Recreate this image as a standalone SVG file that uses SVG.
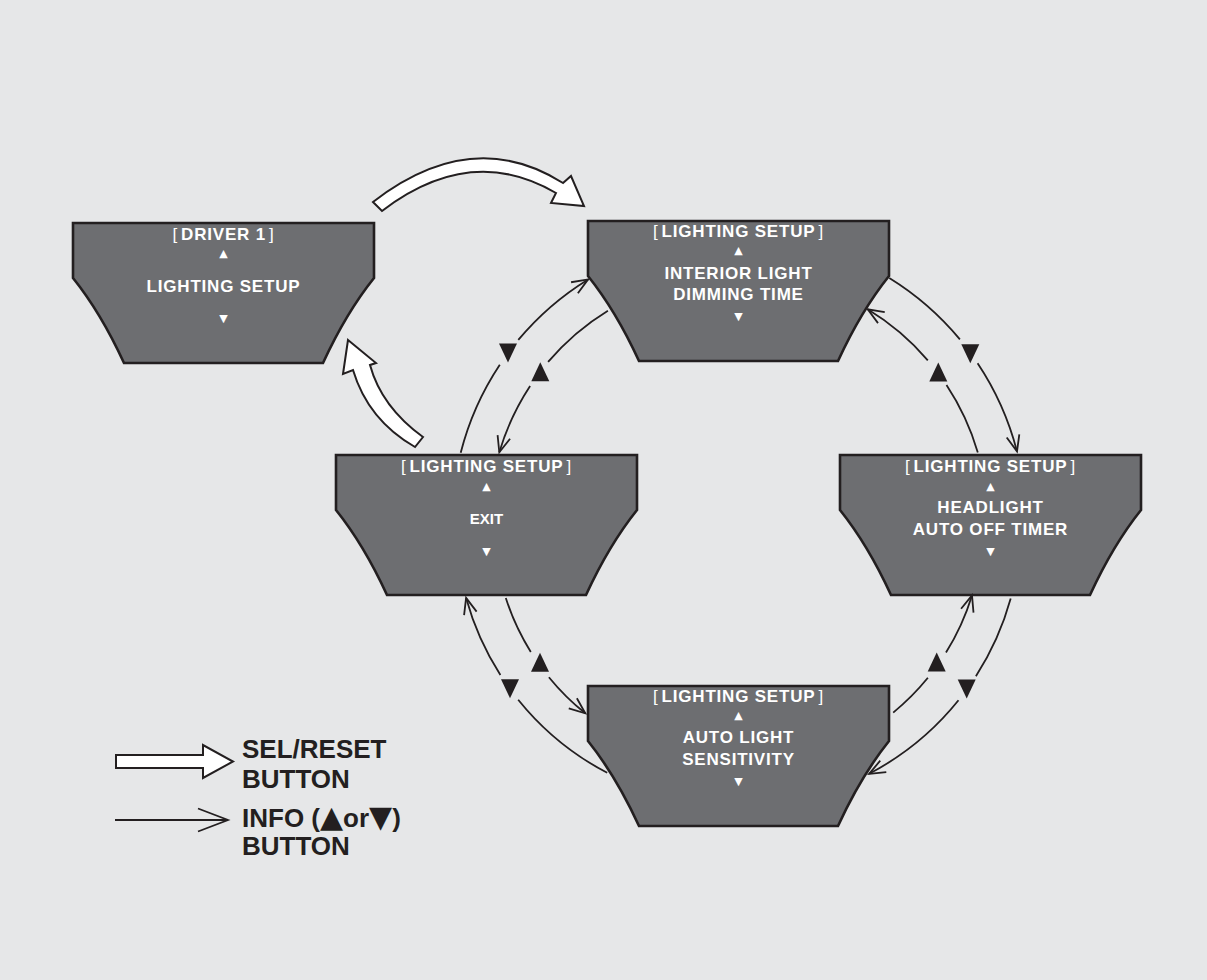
<svg xmlns="http://www.w3.org/2000/svg" width="1207" height="980" viewBox="0 0 1207 980">
<style>
.bg{fill:#e6e7e8}
.node{fill:#6d6e71;stroke:#231f20;stroke-width:2.6;stroke-linejoin:miter}
.t{fill:#ffffff;font-family:"Liberation Sans",Arial,sans-serif;font-weight:bold;font-size:17px;letter-spacing:0.8px;text-anchor:middle}
.br{font-weight:normal}
.sym{fill:#ffffff;font-family:"DejaVu Sans",sans-serif;font-size:11px;text-anchor:middle}
.c{fill:none;stroke:#231f20;stroke-width:1.8}
.tri{fill:#231f20}
.big{fill:#ffffff;stroke:#231f20;stroke-width:2;stroke-linejoin:miter}
.lg{fill:#231f20;font-family:"Liberation Sans",Arial,sans-serif;font-weight:bold;font-size:26px}
.lgs{font-family:"DejaVu Sans",sans-serif;font-weight:normal;font-size:30px}
</style>
<defs>
<marker id="ah" markerUnits="userSpaceOnUse" markerWidth="20" markerHeight="20" refX="0" refY="0" orient="auto" style="overflow:visible">
<path d="M-16,-6.5 L0,0 L-16,6.5" fill="none" stroke="#231f20" stroke-width="1.8"/>
</marker>
<path id="shape" d="M0,0 H301 V55 Q273,90 250,140 H51 Q28,90 0,55 Z"/>
<path id="tdn" d="M-9,-9.5 H9 L0,9.5 Z"/>
<path id="tup" d="M-9,9.5 H9 L0,-9.5 Z"/>
</defs>
<rect class="bg" x="0" y="0" width="1207" height="980"/>

<g id="node-driver" transform="translate(73,223)">
<use href="#shape" class="node"/>
<text class="t" x="150.5" y="17"><tspan class="br">[</tspan><tspan dx="3">DRIVER 1</tspan><tspan class="br" dx="3">]</tspan></text>
<text class="sym" x="150.5" y="34">▲</text>
<text class="t" x="150.5" y="68.7">LIGHTING SETUP</text>
<text class="sym" x="150.5" y="99">▼</text>
</g>

<g id="node-interior" transform="translate(588,221)">
<use href="#shape" class="node"/>
<text class="t" x="150.5" y="15.7"><tspan class="br">[</tspan><tspan dx="3">LIGHTING SETUP</tspan><tspan class="br" dx="3">]</tspan></text>
<text class="sym" x="150.5" y="33">▲</text>
<text class="t" x="150.5" y="58">INTERIOR LIGHT</text>
<text class="t" x="150.5" y="79">DIMMING TIME</text>
<text class="sym" x="150.5" y="99">▼</text>
</g>

<g id="node-exit" transform="translate(336,455)">
<use href="#shape" class="node"/>
<text class="t" x="150.5" y="17"><tspan class="br">[</tspan><tspan dx="3">LIGHTING SETUP</tspan><tspan class="br" dx="3">]</tspan></text>
<text class="sym" x="150.5" y="35">▲</text>
<text class="t" x="150.5" y="69.3" style="font-size:15px;letter-spacing:0">EXIT</text>
<text class="sym" x="150.5" y="100">▼</text>
</g>

<g id="node-headlight" transform="translate(840,455)">
<use href="#shape" class="node"/>
<text class="t" x="150.5" y="16.7"><tspan class="br">[</tspan><tspan dx="3">LIGHTING SETUP</tspan><tspan class="br" dx="3">]</tspan></text>
<text class="sym" x="150.5" y="35">▲</text>
<text class="t" x="150.5" y="57.7">HEADLIGHT</text>
<text class="t" x="150.5" y="80">AUTO OFF TIMER</text>
<text class="sym" x="150.5" y="100">▼</text>
</g>

<g id="node-autolight" transform="translate(588,686)">
<use href="#shape" class="node"/>
<text class="t" x="150.5" y="15.7"><tspan class="br">[</tspan><tspan dx="3">LIGHTING SETUP</tspan><tspan class="br" dx="3">]</tspan></text>
<text class="sym" x="150.5" y="33.3">▲</text>
<text class="t" x="150.5" y="57.3">AUTO LIGHT</text>
<text class="t" x="150.5" y="79">SENSITIVITY</text>
<text class="sym" x="150.5" y="99">▼</text>
</g>

<g id="connectors">
<path class="c" d="M460.7,452.8 A286,286 0 0 1 499.8,364.7"/>
<path class="c" d="M518.3,339.9 A286,286 0 0 1 588.1,279.4" marker-end="url(#ah)"/>
<use href="#tdn" class="tri" x="508" y="353"/>

<path class="c" d="M607.9,310.7 A249,249 0 0 0 548.1,361.9"/>
<path class="c" d="M530.1,385.9 A249,249 0 0 0 499.3,452.3" marker-end="url(#ah)"/>
<use href="#tup" class="tri" x="540.3" y="371.7"/>

<path class="c" d="M889.3,278 A288,288 0 0 1 959.9,339.4"/>
<path class="c" d="M977.6,363.2 A288,288 0 0 1 1017,451.4" marker-end="url(#ah)"/>
<use href="#tdn" class="tri" x="970.3" y="353.7"/>

<path class="c" d="M977.8,452.4 A250,250 0 0 0 946.5,385"/>
<path class="c" d="M927.8,360.3 A250,250 0 0 0 867.7,309.3" marker-end="url(#ah)"/>
<use href="#tup" class="tri" x="938.3" y="372"/>

<path class="c" d="M1010.7,598.6 A283,283 0 0 1 975.9,676.3"/>
<path class="c" d="M958.5,700.3 A283,283 0 0 1 869.1,773.8" marker-end="url(#ah)"/>
<use href="#tdn" class="tri" x="966.7" y="689"/>

<path class="c" d="M893.2,712.6 A245,245 0 0 0 927.9,677.8"/>
<path class="c" d="M946,652.5 A245,245 0 0 0 972,595.4" marker-end="url(#ah)"/>
<use href="#tup" class="tri" x="936.7" y="662"/>

<path class="c" d="M505.8,598 A244,244 0 0 0 530.8,651.9"/>
<path class="c" d="M548.9,677.2 A244,244 0 0 0 585.3,713.3" marker-end="url(#ah)"/>
<use href="#tup" class="tri" x="540" y="662.3"/>

<path class="c" d="M607.2,772.8 A282,282 0 0 1 518.2,699.7"/>
<path class="c" d="M500.4,674.9 A282,282 0 0 1 466.1,597.9" marker-end="url(#ah)"/>
<use href="#tdn" class="tri" x="510" y="688.7"/>

<path class="big" d="M373,202 Q472,125.5 563,183 L571,176 L584,206 L551,203 L556,193 Q471,143 382,211 Z"/>
<path class="big" d="M348,340 L376,363 L370,365 Q381.5,407 423,437 L415,447 Q368,420 353,370 L343,374 Z"/>
</g>

<g id="legend">
<path class="big" d="M116,755 H203 V745 L233,761.5 L203,778 V768 H116 Z"/>
<text class="lg" x="242" y="758.3">SEL/RESET</text>
<text class="lg" x="242" y="788.3">BUTTON</text>
<path class="c" d="M115,820 H228 M198,808.5 L228,820 L198,831.5"/>
<text class="lg" x="242" y="826.7">INFO (<tspan class="lgs">▲</tspan>or<tspan class="lgs">▼</tspan>)</text>
<text class="lg" x="242" y="855">BUTTON</text>
</g>
</svg>
